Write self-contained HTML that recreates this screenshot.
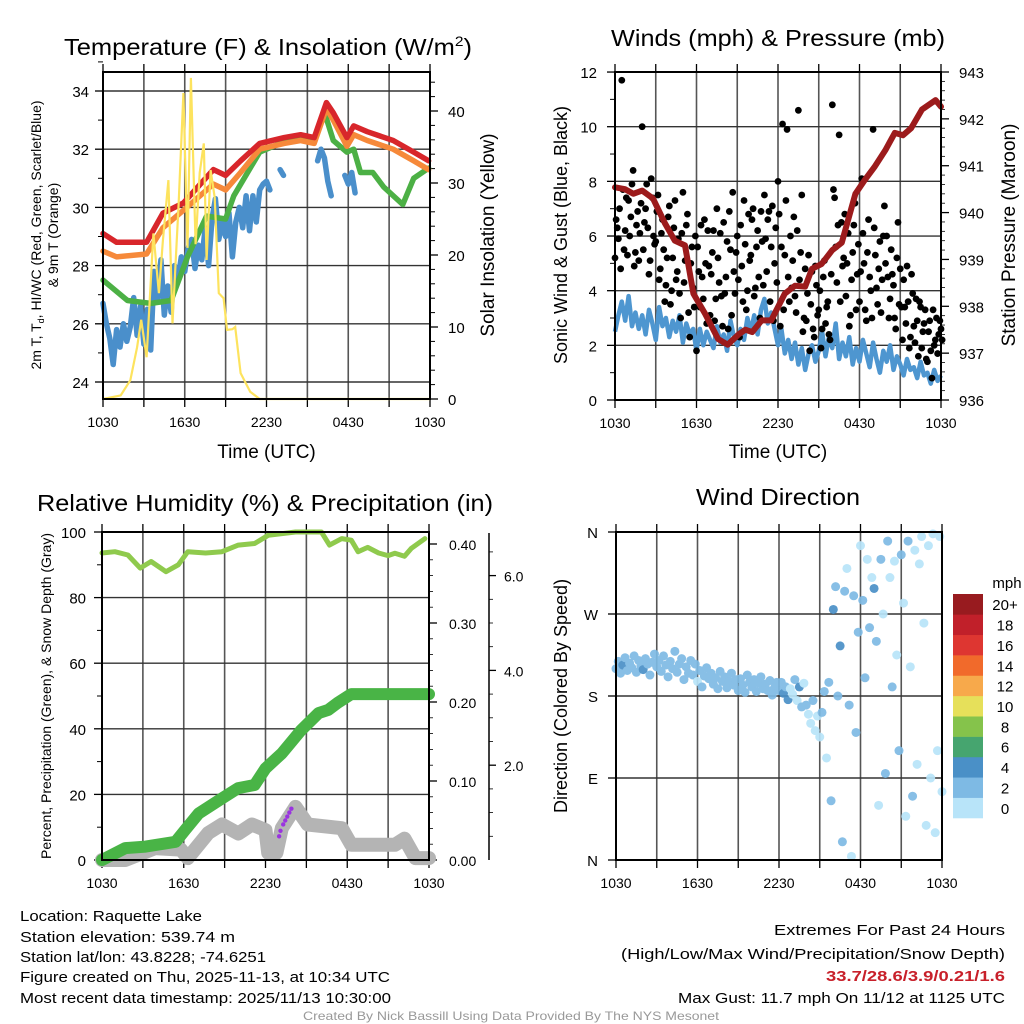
<!DOCTYPE html>
<html><head><meta charset="utf-8"><title>Raquette Lake Meteogram</title>
<style>
html,body{margin:0;padding:0;background:#fff;}
svg{display:block;font-family:"Liberation Sans",Arial,sans-serif;}
</style></head>
<body>
<svg id="fig" width="1024" height="1024" viewBox="0 0 1024 1024" xmlns="http://www.w3.org/2000/svg">
<rect width="1024" height="1024" fill="#fff"/>
<text x="64" y="55" font-size="23" textLength="408" lengthAdjust="spacingAndGlyphs">Temperature (F) &amp; Insolation (W/m<tspan font-size="14" dy="-9">2</tspan><tspan dy="9">)</tspan></text>
<text x="778" y="46" font-size="23" text-anchor="middle" textLength="334" lengthAdjust="spacingAndGlyphs">Winds (mph) &amp; Pressure (mb)</text>
<text x="265" y="511" font-size="23" text-anchor="middle" textLength="456" lengthAdjust="spacingAndGlyphs">Relative Humidity (%) &amp; Precipitation (in)</text>
<text x="778" y="505" font-size="23" text-anchor="middle" textLength="164" lengthAdjust="spacingAndGlyphs">Wind Direction</text>
<g id="layer"></g>
<g font-size="15">
<text x="20" y="921" textLength="182" lengthAdjust="spacingAndGlyphs">Location: Raquette Lake</text>
<text x="20" y="942" textLength="215" lengthAdjust="spacingAndGlyphs">Station elevation: 539.74 m</text>
<text x="20" y="962" textLength="246" lengthAdjust="spacingAndGlyphs">Station lat/lon: 43.8228; -74.6251</text>
<text x="20" y="982" textLength="370" lengthAdjust="spacingAndGlyphs">Figure created on Thu, 2025-11-13, at 10:34 UTC</text>
<text x="20" y="1003" textLength="371" lengthAdjust="spacingAndGlyphs">Most recent data timestamp: 2025/11/13 10:30:00</text>
</g>
<g font-size="15" text-anchor="end">
<text x="1005" y="935" textLength="231" lengthAdjust="spacingAndGlyphs">Extremes For Past 24 Hours</text>
<text x="1005" y="959" textLength="384" lengthAdjust="spacingAndGlyphs">(High/Low/Max Wind/Precipitation/Snow Depth)</text>
<text x="1005" y="981" fill="#c8202a" font-weight="bold" textLength="179" lengthAdjust="spacingAndGlyphs">33.7/28.6/3.9/0.21/1.6</text>
<text x="1005" y="1003" textLength="327" lengthAdjust="spacingAndGlyphs">Max Gust: 11.7 mph On 11/12 at 1125 UTC</text>
</g>
<text x="511" y="1020" font-size="12" fill="#999" text-anchor="middle" textLength="416" lengthAdjust="spacingAndGlyphs">Created By Nick Bassill Using Data Provided By The NYS Mesonet</text>
</svg>
<script>
// ---------- DATA ----------
const xTickLabels = ["1030","1630","2230","0430","1030"];
// Temperature panel
const tRedHours = [0,1,3.2,4.4,5.9,8.1,9,10.1,11.5,13.3,14.5,15.5,16.4,16.9,17.9,18.4,19.4,21.3,22.8,23.9];
const tRed = [29.1,28.8,28.8,29.8,30.15,31.3,31.1,31.6,32.2,32.4,32.5,32.4,33.6,33.25,32.4,32.8,32.6,32.3,31.9,31.6];
const tOrange = [28.5,28.3,28.4,29.3,29.9,30.8,30.6,31.2,32.0,32.2,32.3,32.2,33.4,33.0,32.1,32.5,32.3,32.0,31.6,31.3];
const tGreenHours = [0,1.8,3.5,5,6.2,7.6,9,9.6,11.5,13.5,15.5,16.3,16.9,17.9,18.4,18.9,19.8,20.6,22,22.8,23.9];
const tGreen = [27.5,26.8,26.7,26.8,28.3,29.7,29.6,30.4,31.9,32.3,32.4,33.2,32.3,31.9,32.0,31.2,31.2,30.7,30.1,31.0,31.35];
const tBlueStep = 0.25;
const tBlue = [26.7,26.0,25.5,24.6,25.8,25.2,26.0,25.4,25.9,26.9,25.6,26.6,25.3,26.5,25.1,27.8,26.8,28.2,26.3,27.3,26.4,28.0,27.5,28.3,27.8,28.6,28.9,27.9,28.7,28.2,29.3,28.0,29.6,30.3,28.9,29.5,29.0,29.8,28.3,29.5,30.0,29.3,30.4,29.2,30.4,29.5,30.6,30.8,30.9,30.6,null,null,31.3,31.1,null,null,null,null,null,null,null,null,null,31.6,32.0,31.7,30.9,30.4,null,null,null,31.1,30.8,31.2,30.5];
const insHours = [0,1.3,2,2.5,2.8,3.2,3.7,4.1,4.4,4.8,5.1,5.55,5.9,6.2,6.45,6.8,7.1,7.4,7.6,7.9,8.2,8.5,8.85,9.1,9.5,9.7,10.1,10.8,11.5,24];
const insValues = [0,0.5,2.6,7.2,11,5.8,23,14.7,22,30.4,10.5,27,42.5,21,44.6,21.5,31.4,35.5,19.3,31.8,28,14.7,14,9.6,9.7,10,3.6,1,0,0];
const tempTicks = [24,26,28,30,32,34];
const insTicks = [0,10,20,30,40];
// Wind panel
const presHours = [0,0.74,1.35,2,2.8,3.68,4.4,5.15,5.77,6.63,7.6,8.3,9.1,9.6,10.1,10.8,11.5,12.5,13.25,14,14.5,15.2,16,16.7,17.7,18.4,19.1,19.9,20.6,21.2,21.8,22.6,23.6,24];
const presValues = [940.54,940.5,940.4,940.47,940.3,939.77,939.4,939.3,938.27,937.84,937.3,937.18,937.4,937.5,937.45,937.7,937.7,938.27,938.44,938.42,938.8,938.9,939.2,939.36,940.4,940.7,940.97,941.33,941.7,941.65,941.8,942.2,942.4,942.26];
const windStep = 0.25;
const windSpd = [2.5,3.1,3.6,2.9,3.8,2.7,3.2,2.6,3.1,2.4,3.3,2.8,2.2,3.4,2.7,3.0,2.3,2.9,2.5,3.1,2.1,2.8,2.4,2.6,1.8,2.6,2.0,2.5,2.2,1.9,2.7,2.1,2.4,1.8,2.9,2.3,2.0,2.6,2.2,3.0,2.5,3.1,2.4,3.3,3.7,2.8,3.2,2.6,2.0,2.6,1.7,2.2,1.5,2.1,1.3,1.9,1.1,1.7,2.0,1.4,1.8,2.5,1.6,2.3,1.9,2.8,1.5,2.1,1.6,2.3,1.3,1.9,1.4,2.2,1.7,1.2,2.1,1.5,1.0,1.8,1.4,2.0,1.1,1.6,1.3,0.9,1.5,1.1,1.2,0.8,1.4,0.9,1.0,0.6,1.1,0.7,0.9];
const gustStep = 1/6;
const gustSpd = [5.2,6.3,7.0,11.7,5.5,7.4, 7.3,6.7,8.4,5.4,6.9,6.1, 10.0,6.5,7.9,4.6,8.1,6.0, 5.8,7.5,4.8,6.6,3.6,5.2, 7.1,4.0,6.3,4.4,5.9,3.0, 7.6,5.1,6.8,2.3,5.6,3.4, 1.8,4.7,6.4,3.7,5.0,6.2, 3.1,5.4,2.9,7.0,4.3,3.8, 6.5,4.5,2.6,5.5,7.6,3.9, 6.0,2.3,4.9,7.3,3.3,6.8, 5.3,7.0,4.1,6.2,3.0,5.8, 7.5,4.7,6.9,5.6,2.9,6.3, 8.0,2.7,10.1,5.3,9.9,3.6, 4.1,6.7,3.2,10.6,5.4,2.5, 4.8,3.9,1.8,4.7,2.3,4.2, 3.3,1.9,4.5,2.8,3.6,2.2, 10.8,7.4,4.3,9.7,6.5,5.2, 3.8,6.1,3.1,5.4,7.2,4.6, 3.6,8.1,5.0,2.9,6.6,4.0, 9.9,5.3,3.5,5.8,4.4,7.1, 6.0,3.0,5.5,4.2,2.6,6.5, 4.8,2.2,3.4,4.9,1.9,4.6, 2.7,3.7,1.6,3.4,2.5,3.3, 1.4,2.9,0.8,2.0,3.0,2.4,2.6];
const gust2Spd = [6.6,5.9,4.8,7.7,6.2,5.3, 6.0,7.9,4.9,6.4,5.1,7.2, 5.5,7.0,6.3,5.1,7.4,5.7, 6.9,4.4,6.1,5.5,4.2,6.7, 3.5,5.2,7.3,4.7,3.9,6.1, 4.3,6.4,3.2,5.0,4.1,6.0, 5.6,3.4,4.5,6.6,2.8,4.9, 4.6,6.2,3.7,5.2,6.1,2.7, 3.9,5.8,6.9,3.1,4.7,5.4, 4.4,6.4,3.6,5.7,4.0,5.1, 6.6,3.8,5.6,4.5,6.9,4.2, 5.9,6.6,3.6,7.1,5.0,4.3, 6.8,5.6,3.3,7.3,4.5,6.0, 5.1,3.8,6.2,4.4,7.5,3.0, 2.9,5.3,3.5,2.6,4.9,3.1, 4.0,2.6,5.1,3.4,2.4,4.6, 7.7,5.6,6.4,3.6,4.9,6.8, 5.0,2.7,4.4,6.4,3.3,5.7, 4.7,6.1,3.3,5.4,4.5,3.0, 6.3,4.1,4.8,3.2,6.0,5.0, 4.5,3.7,4.6,3.0,5.2,3.5, 3.4,4.4,2.8,3.6,2.3,3.9, 2.1,2.9,3.6,1.9,2.8,1.5, 2.5,1.8,3.3,2.2,1.7,2.9,2.2];
const windTicks = [0,2,4,6,8,10,12];
const presTicks = [936,937,938,939,940,941,942,943];
// RH / precip panel
const rhHours = [0,0.95,1.9,2.8,3.6,4.7,5.6,6.3,7.6,8.8,10,11.2,12.2,14.2,16.1,16.7,17.6,18.3,18.8,19.5,20.3,21,21.5,22.2,22.7,23.7];
const rhValues = [93.6,94,93,89,91,87.9,90,94,93.6,94,96,96.5,99,100,100,96,98,97.5,94,95.3,93.6,92.8,93.5,92.6,95,98];
const precipHours = [0,1.7,3.2,5.4,6.1,7.1,8.8,10,11.2,12,13.2,14.6,15.9,16.6,17.3,18.3,24];
const precipValues = [0,0.015,0.017,0.023,0.038,0.059,0.078,0.091,0.095,0.116,0.135,0.164,0.186,0.19,0.199,0.21,0.21];
const snowHours = [0,1.7,3.9,5.8,6.3,7.8,8.8,10,11,12,12.2,12.8,13.2,14.2,15.1,17.6,18.3,21.5,22.2,23,24];
const snowValues = [0,0,0.25,0.22,0.04,0.57,0.75,0.56,0.75,0.63,0.15,0.15,0.67,1.12,0.75,0.67,0.32,0.32,0.45,0.04,0.04];
const purpleHours = [13.0,13.1,13.3,13.45,13.6,13.75,13.9];
const purpleValues = [0.03,0.037,0.045,0.05,0.055,0.06,0.065];
const rhTicks = [0,20,40,60,80,100];
const precipTicks = ["0.00","0.10","0.20","0.30","0.40"];
const snowTicks = ["2.0","4.0","6.0"];
// Direction panel
const dirStep = 1/6;
const dirValues = [210,218,205,214,222,208, 216,211,224,206,219,213, 209,221,215,203,217,226, 212,219,207,224,214,201, 218,210,229,206,215,221, 198,212,205,219,203,215, 196,208,190,202,211,199, 205,193,200,188,207,196, 201,189,196,205,192,198, 186,199,192,184,203,195, 190,198,185,194,201,188, 193,186,197,181,189,195, 186,195,183,190,176,188, 182,198,175,190,168,194, 170,160,150,175,142,158, 135,162,185,112,195,65, 275,300,180,235,20,295, 320,170,4,290,140,250, 345,285,200,330,255,310, 298,240,60,330,270,95, 350,310,190,328,225,120, 335,282,48,350,212,70, 340,105,325,355,260,38, 345,90,358,30,120,355,75];
const dirLabels = ["N","E","S","W","N"];
const cbLabels = ["0","2","4","6","8","10","12","14","16","18","20+"];
const cbColors = ["#b8e4f9","#7ebae4","#4a90c7","#46a56f","#85c34b","#e6e05a","#f7a94b","#f16a2b","#de3631","#c1202a","#981b1f"];

// ---------- HELPERS ----------
const NS = "http://www.w3.org/2000/svg";
const layer = document.getElementById("layer");
function mk(tag, attrs, parent){
  const e = document.createElementNS(NS, tag);
  for (const k in attrs) e.setAttribute(k, attrs[k]);
  (parent||layer).appendChild(e);
  return e;
}
function txt(s, attrs, parent){ const e = mk("text", attrs, parent); e.textContent = s; return e; }
function interp(hs, vs, h){
  if (h <= hs[0]) return vs[0];
  for (let i=1;i<hs.length;i++){ if (h <= hs[i]){ const f=(h-hs[i-1])/(hs[i]-hs[i-1]); return vs[i-1]+f*(vs[i]-vs[i-1]); } }
  return vs[vs.length-1];
}
function pathFrom(hs, vs, xs, ys){
  let d = "", pen = false;
  for (let i=0;i<vs.length;i++){
    if (vs[i]===null){ pen=false; continue; }
    d += (pen?"L":"M") + xs(hs[i]).toFixed(1) + "," + ys(vs[i]).toFixed(1);
    pen = true;
  }
  return d;
}
function stepHours(n, step){ const a=[]; for(let i=0;i<n;i++) a.push(i*step); return a; }

function frame(name, L, R, T, B, hGrid){
  const g = mk("g", {});
  
  
  const xs = h => L + h/24*(R-L);
  for (let h=3; h<24; h+=3){
    const v = mk("line", {x1:xs(h), x2:xs(h), y1:T, y2:B, stroke:"#555", "stroke-width":1.6}, g);
    
    
  }
  hGrid.forEach(y => {
    const l = mk("line", {x1:L, x2:R, y1:y, y2:y, stroke:"#333", "stroke-width":1.4}, g);
    
    
  });
  for (let h=0; h<=24; h+=3){
    mk("line", {x1:xs(h), x2:xs(h), y1:B, y2:B+8, stroke:"#000", "stroke-width":1.3}, g);
    mk("line", {x1:xs(h), x2:xs(h), y1:T-8, y2:T, stroke:"#000", "stroke-width":1.3}, g);
  }
  xTickLabels.forEach((s,i) => {
    const t = txt(s, {x:xs(i*6), y:B+28, "font-size":14, "text-anchor":"middle"}, g);
    
    
  });
  return {g, xs};
}
function border(L,R,T,B){
  const r = mk("rect", {x:L, y:T, width:R-L, height:B-T, fill:"none", stroke:"#000", "stroke-width":2});
  
  
}

// ---------- PANEL 1: Temperature ----------
(function(){
  const L=103,R=430,T=72,B=399;
  const ty = v => 91 + (34 - v)*29.1;
  const iy = v => 399 - v*7.2;
  const f = frame("temperature-panel", L,R,T,B, tempTicks.map(ty));
  const xs = f.xs;
  tempTicks.forEach(v => {
    mk("line",{x1:L-8,x2:L,y1:ty(v),y2:ty(v),stroke:"#000","stroke-width":1.3});
    mk("line",{x1:L-5,x2:L,y1:ty(v+1),y2:ty(v+1),stroke:"#000","stroke-width":1});
    const t = txt(String(v),{x:L-14,y:ty(v)+6,"font-size":15,"text-anchor":"end"});
    
    
  });
  insTicks.forEach(v => {
    mk("line",{x1:R,x2:R+8,y1:iy(v),y2:iy(v),stroke:"#000","stroke-width":1.3});
    const t = txt(String(v),{x:R+18,y:iy(v)+6,"font-size":15});
    
    
  });
  for (let v=2; v<46; v+=2){ if (v%10) mk("line",{x1:R,x2:R+5,y1:iy(v),y2:iy(v),stroke:"#000","stroke-width":1}); }
  const blueH = stepHours(tBlue.length, tBlueStep);
  const series = [
    ["blue-temp-line", blueH, tBlue, ty, "#4a8fcb", 5.5],
    ["green-temp-line", tGreenHours, tGreen, ty, "#4cb045", 5.5],
    ["orange-9m-temp-line", tRedHours, tOrange, ty, "#f6893a", 5.5],
    ["red-2m-temp-line", tRedHours, tRed, ty, "#d8262b", 5.5]
  ];
  series.forEach(s => {
    const p = mk("path",{d:pathFrom(s[1],s[2],xs,s[3]),fill:"none",stroke:s[4],"stroke-width":s[5],"stroke-linejoin":"round","stroke-linecap":"round"});
    
    
  });
  const ip = mk("path",{d:pathFrom(insHours,insValues,xs,iy),fill:"none",stroke:"#fde35e","stroke-width":2.2});
  
  
  border(L,R,T,B);
  const xl = txt("Time (UTC)",{x:(L+R)/2,y:458,"font-size":19,"text-anchor":"middle"});
  
  
  const y1 = txt("2m T, T",{x:0,y:0,"font-size":14,"text-anchor":"middle",transform:"translate(41,235) rotate(-90)"});
  const sub = document.createElementNS(NS,"tspan"); sub.setAttribute("font-size","9"); sub.setAttribute("dy","3"); sub.textContent="d"; y1.appendChild(sub);
  const rest = document.createElementNS(NS,"tspan"); rest.setAttribute("dy","-3"); rest.textContent=", HI/WC (Red, Green, Scarlet/Blue)"; y1.appendChild(rest);
  
  
  const y2 = txt("& 9m T (Orange)",{x:0,y:0,"font-size":14,"text-anchor":"middle",transform:"translate(58,235) rotate(-90)"});
  
  
  const yr = txt("Solar Insolation (Yellow)",{x:0,y:0,"font-size":19,"text-anchor":"middle",transform:"translate(494,235) rotate(-90)"});
  
  
})();

// ---------- PANEL 2: Winds ----------
(function(){
  const L=615,R=941,T=72,B=400;
  const wy = v => 400 - v*27.33;
  const py = p => 72 + (943 - p)*46.86;
  const f = frame("wind-panel", L,R,T,B, windTicks.slice(1,-1).map(wy));
  const xs = f.xs;
  windTicks.forEach(v => {
    mk("line",{x1:L-8,x2:L,y1:wy(v),y2:wy(v),stroke:"#000","stroke-width":1.3});
    if (v<12) mk("line",{x1:L-5,x2:L,y1:wy(v+1),y2:wy(v+1),stroke:"#000","stroke-width":1});
    const t = txt(String(v),{x:L-18,y:wy(v)+6,"font-size":15,"text-anchor":"end"});
    
    
  });
  presTicks.forEach(v => {
    mk("line",{x1:R,x2:R+8,y1:py(v),y2:py(v),stroke:"#000","stroke-width":1.3});
    for (let k=1;k<5;k++) if (v<943) mk("line",{x1:R,x2:R+4,y1:py(v+k*0.2),y2:py(v+k*0.2),stroke:"#000","stroke-width":0.8});
    const t = txt(String(v),{x:R+18,y:py(v)+6,"font-size":15});
    
    
  });
  const wp = mk("path",{d:pathFrom(stepHours(windSpd.length,windStep),windSpd,xs,wy),fill:"none",stroke:"#4e96d0","stroke-width":4.5,"stroke-linejoin":"round"});
  
  
  const gg = mk("g",{});
  
  
  gustSpd.forEach((v,i) => {
    const c = mk("circle",{cx:xs(i*gustStep),cy:wy(v),r:3.4,fill:"#000"},gg);
    
    
  });
  gust2Spd.forEach((v,i) => {
    const c = mk("circle",{cx:xs(i*gustStep+gustStep/2),cy:wy(v),r:3.4,fill:"#000"},gg);
    
    
  });
  const pp = mk("path",{d:pathFrom(presHours,presValues,xs,py),fill:"none",stroke:"#9c1b1c","stroke-width":6,"stroke-linejoin":"round","stroke-linecap":"round"});
  
  
  border(L,R,T,B);
  const xl = txt("Time (UTC)",{x:(L+R)/2,y:458,"font-size":19,"text-anchor":"middle"});
  
  
  const yl = txt("Sonic Wind & Gust (Blue, Black)",{x:0,y:0,"font-size":18,"text-anchor":"middle",transform:"translate(567,235) rotate(-90)"});
  
  
  const yr = txt("Station Pressure (Maroon)",{x:0,y:0,"font-size":19,"text-anchor":"middle",transform:"translate(1015,235) rotate(-90)"});
  
  
})();

// ---------- PANEL 3: RH & precip ----------
(function(){
  const L=102,R=429,T=532,B=860;
  const ry = v => 860 - v*3.28;
  const qy = v => 860 - v*790;
  const sy = v => 860 - v*47.4;
  const f = frame("humidity-panel", L,R,T,B, rhTicks.slice(1,-1).map(ry));
  const xs = f.xs;
  rhTicks.forEach(v => {
    mk("line",{x1:L-8,x2:L,y1:ry(v),y2:ry(v),stroke:"#000","stroke-width":1.3});
    if (v<100) mk("line",{x1:L-5,x2:L,y1:ry(v+10),y2:ry(v+10),stroke:"#000","stroke-width":1});
    const t = txt(String(v),{x:L-16,y:ry(v)+6,"font-size":15,"text-anchor":"end"});
    
    
  });
  precipTicks.forEach(s => {
    const v = parseFloat(s);
    mk("line",{x1:R,x2:R+8,y1:qy(v),y2:qy(v),stroke:"#000","stroke-width":1.3});
    const t = txt(s,{x:R+20,y:qy(v)+6,"font-size":14});
    
    
  });
  for (let k=1;k<21;k++) if (k%5) mk("line",{x1:R,x2:R+4,y1:qy(k*0.02),y2:qy(k*0.02),stroke:"#000","stroke-width":0.8});
  const ax = mk("line",{x1:489,x2:489,y1:533,y2:860,stroke:"#000","stroke-width":1.5});
  
  
  snowTicks.forEach(s => {
    const v = parseFloat(s);
    mk("line",{x1:489,x2:496,y1:sy(v),y2:sy(v),stroke:"#000","stroke-width":1.3});
    const t = txt(s,{x:504,y:sy(v)+6,"font-size":14});
    
    
  });
  for (let k=1;k<14;k++) if (k%4) mk("line",{x1:489,x2:493,y1:sy(k*0.5),y2:sy(k*0.5),stroke:"#000","stroke-width":0.8});
  const sp = mk("path",{d:pathFrom(snowHours,snowValues,xs,sy),fill:"none",stroke:"#b4b4b4","stroke-width":14,"stroke-linejoin":"round","stroke-linecap":"round"});
  
  
  const qp = mk("path",{d:pathFrom(precipHours,precipValues,xs,qy),fill:"none",stroke:"#49b446","stroke-width":12,"stroke-linejoin":"round","stroke-linecap":"round"});
  
  
  purpleHours.forEach((h,i) => {
    const c = mk("circle",{cx:xs(h),cy:qy(purpleValues[i]),r:2.2,fill:"#9a33e0"});
    
    
  });
  const rp = mk("path",{d:pathFrom(rhHours,rhValues,xs,ry),fill:"none",stroke:"#8fca4d","stroke-width":5,"stroke-linejoin":"round","stroke-linecap":"round"});
  
  
  border(L,R,T,B);
  const yl = txt("Percent, Precipitation (Green), & Snow Depth (Gray)",{x:0,y:0,"font-size":14,"text-anchor":"middle",transform:"translate(51,696) rotate(-90)"});
  
  
})();

// ---------- PANEL 4: Wind direction ----------
(function(){
  const L=616,R=942,T=532,B=860;
  const dy = d => 860 - d*328/360;
  const f = frame("direction-panel", L,R,T,B, [90,180,270].map(dy));
  const xs = f.xs;
  dirLabels.forEach((s,i) => {
    mk("line",{x1:L-8,x2:L,y1:dy(i*90),y2:dy(i*90),stroke:"#000","stroke-width":1.3});
    const t = txt(s,{x:L-18,y:dy(i*90)+6,"font-size":15,"text-anchor":"end"});
    
    
  });
  const wh = stepHours(windSpd.length, windStep);
  const dg = mk("g",{opacity:0.92});
  
  
  dirValues.forEach((d,i) => {
    const h = i*dirStep;
    const s = Math.max(interp(wh, windSpd, h), gustSpd[i]*0.45);
    const ci = Math.min(cbColors.length-1, Math.floor(s/2));
    const c = mk("circle",{cx:xs(h),cy:dy(d),r:4.5,fill:cbColors[ci]},dg);
    
    
  });
  border(L,R,T,B);
  const yl = txt("Direction (Colored By Speed)",{x:0,y:0,"font-size":18,"text-anchor":"middle",transform:"translate(567,696) rotate(-90)"});
  
  
  const cb = mk("g",{});
  
  
  const h = (818-594)/cbColors.length;
  cbColors.forEach((c,i) => {
    const r = mk("rect",{x:953,y:818-(i+1)*h,width:30,height:h+0.3,fill:c},cb);
    
    
    const t = txt(cbLabels[i],{x:1005,y:818-(i+0.5)*h+6,"font-size":15,"text-anchor":"middle"},cb);
    
    
  });
  const u = txt("mph",{x:1007,y:588,"font-size":15,"text-anchor":"middle"},cb);
  
  
})();
</script>
</body></html>
